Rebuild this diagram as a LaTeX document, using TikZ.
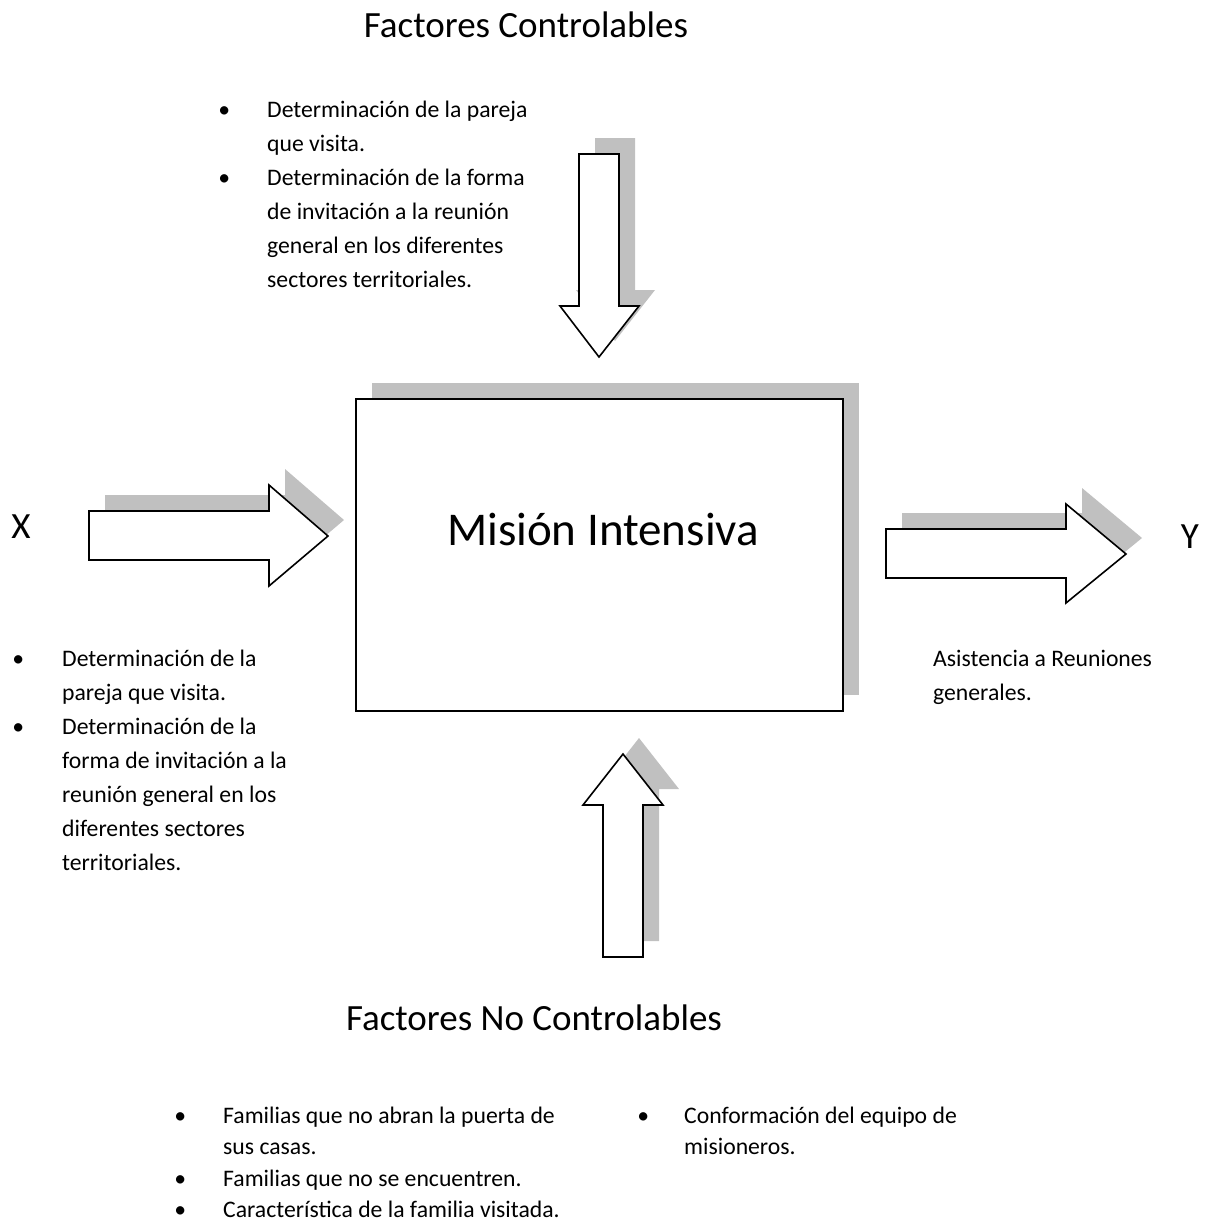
\documentclass[tikz,border=0pt]{standalone}
\usepackage{fontspec}
\setmainfont{Carlito}
\usepackage{tikz}
\usetikzlibrary{shadows}
\definecolor{shadowgray}{RGB}{192,192,192}
\newcommand{\vineta}{\makebox[0pt]{\textbullet}}
% contornos de las flechas (en pixeles, y hacia abajo)
\newcommand{\flechaabajo}{(579,154) -- (619,154) -- (619,306) -- (639,306)
  -- (599,357) -- (560,306) -- (579,306) -- cycle}
\newcommand{\flechaarriba}{(603,957) -- (603,805) -- (583,805) -- (623,754)
  -- (663,805) -- (643,805) -- (643,957) -- cycle}
\newcommand{\flechaentrada}{(89,511) -- (269,511) -- (269,485) -- (328,536)
  -- (269,586) -- (269,560) -- (89,560) -- cycle}
\newcommand{\flechasalida}{(886,529) -- (1066,529) -- (1066,504) -- (1126,554)
  -- (1066,603) -- (1066,578) -- (886,578) -- cycle}
\tikzset{
  mision_box/.style = {draw=black, fill=white, line width=1.6pt, inner sep=0pt,
    minimum width=487pt, minimum height=312pt,
    drop shadow={shadow xshift=16pt, shadow yshift=16pt, fill=shadowgray,
      opacity=1}},% caja del proceso
  mision_text/.style = {inner sep=0pt, font=\fontsize{47}{56}\selectfont},
  title_text/.style = {inner sep=0pt, anchor=base,
    font=\fontsize{37}{44}\selectfont},% titulos y variables
  list_text/.style = {inner sep=0pt, anchor=base west,
    font=\fontsize{23.7}{34}\selectfont},% listas con vinetas
  list_tight/.style = {list_text, font=\fontsize{23.7}{31.5}\selectfont},
  arrow_shadow/.style = {fill=shadowgray, shift={(16pt,16pt)}},
  arrow_body/.style = {draw=black, fill=white, line width=1.6pt,
    line join=miter}
}
\begin{document}
\begin{tikzpicture}[x=1pt, y=-1pt]
  \useasboundingbox (0,0) rectangle (1210,1229);
  \node [title_text] (controlables) at (526,37) {Factores Controlables};
  % flechas con sombra
  \fill [arrow_shadow] \flechaabajo;
  \draw [arrow_body] \flechaabajo;
  \fill [arrow_shadow] \flechaarriba;
  \draw [arrow_body] \flechaarriba;
  \fill [arrow_shadow] \flechaentrada;
  \draw [arrow_body] \flechaentrada;
  \fill [arrow_shadow] \flechasalida;
  \draw [arrow_body] \flechasalida;
  \node [mision_box] (mision) at (599.5,555) {};
  \node [mision_text, anchor=base] (mision_label) at (603,545) {Misión Intensiva};
  \node [title_text] (x_var) at (21,538) {X};
  \node [title_text] (y_var) at (1190,548) {Y};
  \node [list_text] (lista_controlables) at (224,117) {%
    \begin{tabular}[t]{@{}p{43pt}@{}l@{}}
      \vineta & Determinación de la pareja\\
              & que visita.\\
      \vineta & Determinación de la forma\\
              & de invitación a la reunión\\
              & general en los diferentes\\
              & sectores territoriales.
    \end{tabular}};
  \node [list_text] (lista_entrada) at (18,666) {%
    \begin{tabular}[t]{@{}p{44pt}@{}l@{}}
      \vineta & Determinación de la\\
              & pareja que visita.\\
      \vineta & Determinación de la\\
              & forma de invitación a la\\
              & reunión general en los\\
              & diferentes sectores\\
              & territoriales.
    \end{tabular}};
  \node [list_text] (salida) at (933,666) {%
    \begin{tabular}[t]{@{}l@{}}
      Asistencia a Reuniones\\
      generales.
    \end{tabular}};
  \node [title_text] (no_controlables) at (534,1030) {Factores No Controlables};
  \node [list_tight] (lista_no_controlables) at (180,1123) {%
    \begin{tabular}[t]{@{}p{43pt}@{}l@{}}
      \vineta & Familias que no abran la puerta de\\
              & sus casas.\\
      \vineta & Familias que no se encuentren.\\
      \vineta & Característica de la familia visitada.
    \end{tabular}};
  \node [list_tight] (lista_equipo) at (643,1123) {%
    \begin{tabular}[t]{@{}p{41pt}@{}l@{}}
      \vineta & Conformación del equipo de\\
              & misioneros.
    \end{tabular}};
\end{tikzpicture}
\end{document}
